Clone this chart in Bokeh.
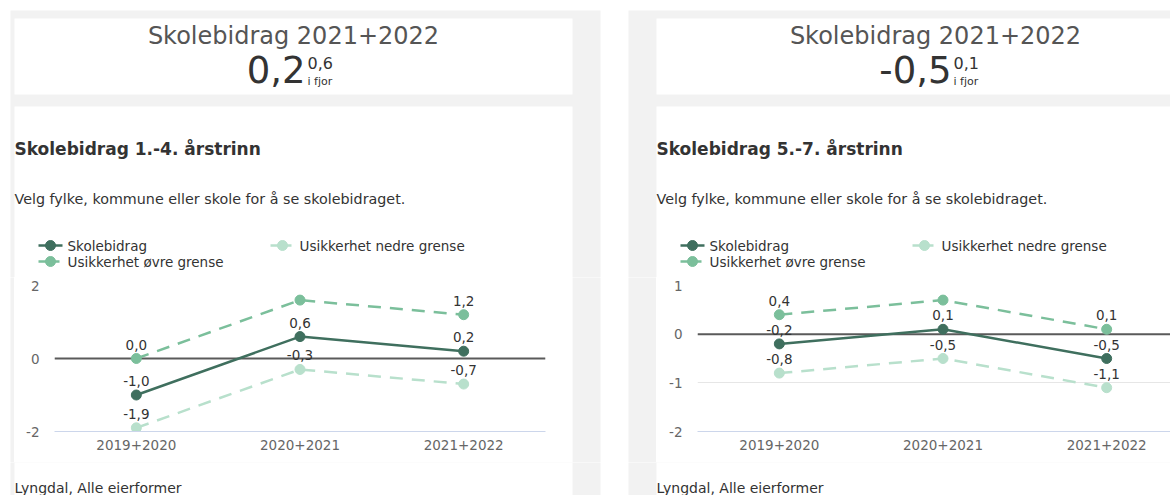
from bokeh.plotting import figure
from bokeh.layouts import column, row
from bokeh.models import Range1d, FixedTicker, Span, ColumnDataSource
from bokeh.embed import file_html
from bokeh.resources import INLINE
from bokeh.core.properties import value

# ---------------- data ----------------
categories = ["2019+2020", "2020+2021", "2021+2022"]
series_names = ["Skolebidrag", "Usikkerhet nedre grense", "Usikkerhet øvre grense"]

left_title = "Skolebidrag 1.-4. årstrinn"
left_skolebidrag = [-1.0, 0.6, 0.2]
left_nedre = [-1.9, -0.3, -0.7]
left_ovre = [0.0, 1.6, 1.2]
left_yticks = [-2, 0, 2]
left_now = 0.2
left_last_year = 0.6

right_title = "Skolebidrag 5.-7. årstrinn"
right_skolebidrag = [-0.2, 0.1, -0.5]
right_nedre = [-0.8, -0.5, -1.1]
right_ovre = [0.4, 0.7, 0.1]
right_yticks = [-2, -1, 0, 1]
right_now = -0.5
right_last_year = 0.1

header_title = "Skolebidrag 2021+2022"
last_year_text = "i fjor"
subtitle = "Velg fylke, kommune eller skole for å se skolebidraget."
footer = "Lyngdal, Alle eierformer"

# ---------------- styles ----------------
FONT = value("DejaVu Sans")
DARK = "#3f6f5e"
OVRE = "#7bbf9b"
NEDRE = "#b8e0cc"
PANEL = "#f2f2f2"
TXT = "#333333"
DASH = "13 9"


def fmt(v):
    return f"{v:.1f}".replace(".", ",")


def pixel_fig(x0, x1, y0, y1):
    p = figure(width=x1 - x0, height=y1 - y0,
               x_range=Range1d(x0, x1), y_range=Range1d(y1, y0),
               output_backend="svg", toolbar_location=None,
               x_axis_type=None, y_axis_type=None,
               min_border=0, min_border_left=0, min_border_right=0,
               min_border_top=0, min_border_bottom=0, frame_align=False)
    p.outline_line_color = None
    p.background_fill_color = "white"
    p.border_fill_color = "white"
    # grey panels and white cards (page layout)
    p.quad(left=[10, 628], right=[600, 1300], top=[10, 10], bottom=[900, 900],
           fill_color=PANEL, line_color=None)
    p.quad(left=[14, 14, 656, 656], right=[572, 572, 1214, 1214],
           top=[18, 106, 18, 106], bottom=[94, 900, 94, 900],
           fill_color="white", line_color=None)
    return p


def txt(p, x, y, t, size, color=TXT, align="left", style="normal"):
    p.text(x=[x], y=[y], text=[t], text_font=FONT, text_font_size=size,
           text_color=color, text_align=align, text_baseline="middle",
           text_font_style=style)


# ---------------- top part (headers, titles, legends) ----------------
top = pixel_fig(0, 1170, 0, 277)
panels = [
    (0, left_title, left_now, left_last_year, 305),
    (642, right_title, right_now, right_last_year, 951),
]
for dx, title, now, last, num_right in panels:
    cx = 293 + dx
    txt(top, cx, 35, header_title, "24px", color="#555555", align="center")
    txt(top, num_right, 69, fmt(now), "37px", color=TXT, align="right")
    txt(top, num_right + 2, 62, fmt(last), "16px", color=TXT)
    txt(top, num_right + 2, 81, last_year_text, "11px", color=TXT)
    txt(top, 14 + dx, 148, title, "17px", color=TXT, style="bold")
    txt(top, 14 + dx, 198, subtitle, "14.3px", color=TXT)
    # legend
    legend_items = [
        (38 + dx, 245, series_names[0], DARK, "solid"),
        (270 + dx, 245, series_names[1], NEDRE, "8 5"),
        (38 + dx, 261, series_names[2], OVRE, "8 5"),
    ]
    for lx, ly, name, col, dash in legend_items:
        top.line(x=[lx, lx + 24], y=[ly, ly], line_color=col, line_width=2.5,
                 line_dash=dash)
        top.scatter(x=[lx + 12], y=[ly], size=10, fill_color=col, line_color=col)
        txt(top, lx + 29, ly, name, "13.5px", color=TXT)


# ---------------- charts ----------------
def chart(width, border_left, border_right, x_end, yticks, skole, nedre, ovre):
    y_lo, y_hi = min(yticks), max(yticks)
    p = figure(width=width, height=185,
               x_range=Range1d(-0.5, x_end), y_range=Range1d(y_lo, y_hi),
               output_backend="svg", toolbar_location=None,
               min_border_left=border_left, min_border_right=border_right,
               min_border_top=8, min_border_bottom=31, frame_align=False)
    p.outline_line_color = None
    p.background_fill_color = "white"
    p.border_fill_color = "white"
    p.xgrid.grid_line_color = None
    p.ygrid.ticker = FixedTicker(ticks=yticks)
    p.ygrid.grid_line_color = "#e6e6e6"

    p.yaxis.ticker = FixedTicker(ticks=yticks)
    p.yaxis.major_label_overrides = {t: str(t) for t in yticks}
    p.yaxis.axis_line_color = None
    p.yaxis.major_tick_line_color = None
    p.yaxis.minor_tick_line_color = None
    p.yaxis.major_tick_out = 0
    p.yaxis.major_tick_in = 0
    p.yaxis.major_label_standoff = 15
    p.yaxis.major_label_text_color = "#666666"
    p.yaxis.major_label_text_font = "DejaVu Sans"
    p.yaxis.major_label_text_font_size = "13.5px"

    xs = list(range(len(categories)))
    p.xaxis.ticker = FixedTicker(ticks=xs)
    p.xaxis.major_label_overrides = {i: c for i, c in enumerate(categories)}
    p.xaxis.axis_line_color = "#ccd6eb"
    p.xaxis.major_tick_line_color = None
    p.xaxis.minor_tick_line_color = None
    p.xaxis.major_tick_out = 0
    p.xaxis.major_tick_in = 0
    p.xaxis.major_label_standoff = 8
    p.xaxis.major_label_text_color = "#666666"
    p.xaxis.major_label_text_font = "DejaVu Sans"
    p.xaxis.major_label_text_font_size = "13.5px"

    zero = Span(location=0, dimension="width", line_color="#5a5a5a", line_width=2,
                level="underlay")
    p.add_layout(zero)

    ppu = 146 / (y_hi - y_lo)
    for vals, col, dash in [(skole, DARK, "solid"), (nedre, NEDRE, DASH), (ovre, OVRE, DASH)]:
        p.line(x=xs, y=vals, line_color=col, line_width=2.5, line_dash=dash)
        p.scatter(x=xs, y=vals, size=10, fill_color=col, line_color=col)

    lx, ly, lt = [], [], []
    for vals in (skole, nedre, ovre):
        for x, v in zip(xs, vals):
            if (y_hi - v) * ppu >= 20:  # label fits inside the plot area
                lx.append(x)
                ly.append(v)
                lt.append(fmt(v))
    src = ColumnDataSource(dict(x=lx, y=ly, t=lt))
    p.text(x="x", y="y", text="t", source=src, text_font=FONT,
           text_font_size="13.5px", text_color=TXT, text_align="center",
           text_baseline="middle", y_offset=-14)
    return p


cat_px = 491 / 3
chart_left = chart(558, 40, 27, 2.5, left_yticks, left_skolebidrag, left_nedre, left_ovre)
chart_right = chart(514, 41, 0, -0.5 + (1170 - 697) / cat_px, right_yticks,
                    right_skolebidrag, right_nedre, right_ovre)
strip_left = pixel_fig(0, 14, 277, 462)
strip_mid = pixel_fig(572, 656, 277, 462)

# ---------------- bottom part ----------------
bottom = pixel_fig(0, 1170, 462, 495)
txt(bottom, 14, 487, footer, "14px", color=TXT)
txt(bottom, 656, 487, footer, "14px", color=TXT)

layout = column(top, row(strip_left, chart_left, strip_mid, chart_right, spacing=0),
                bottom, spacing=0)

open("out.html", "w").write(file_html(layout, INLINE))
